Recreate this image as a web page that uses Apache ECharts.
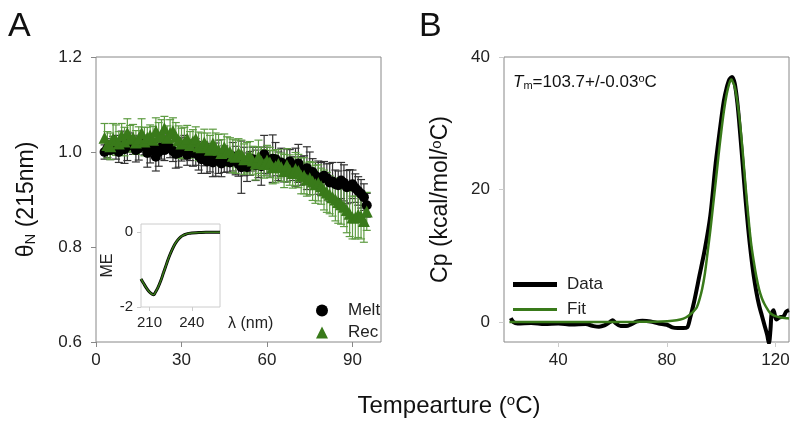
<!DOCTYPE html>
<html><head><meta charset="utf-8">
<script src="https://cdn.jsdelivr.net/npm/echarts@6/dist/echarts.min.js"></script>
<style>html,body{margin:0;padding:0;background:#fff}#c{width:800px;height:431px}</style>
</head><body><div id="c"></div>
<script>
// Panel A: temperature (°C)
var tempA = [3,4,5,6,7,8,9,10,11,12,
  13,14,15,16,17,18,19,20,21,22,
  23,24,25,26,27,28,29,30,31,32,
  33,34,35,36,37,38,39,40,41,42,
  43,44,45,46,47,48,49,50,51,52,
  53,54,55,56,57,58,59,60,61,62,
  63,64,65,66,67,68,69,70,71,72,
  73,74,75,76,77,78,79,80,81,82,
  83,84,85,86,87,88,89,90,91,92,
  93,94,95];
var meltVals = [1.000,1.008,1.004,1.015,1.010,1.000,1.022,1.006,1.012,1.020,
  1.015,1.004,1.008,1.018,1.012,0.998,1.005,1.012,0.990,1.000,
  1.010,1.004,1.018,1.008,1.002,0.996,0.998,1.006,1.010,0.994,
  1.004,0.998,1.000,0.992,0.985,0.996,0.980,0.988,0.978,0.984,
  0.990,0.976,0.985,0.980,0.978,0.990,0.982,0.975,0.968,0.980,
  0.968,0.976,0.985,0.972,0.978,0.970,0.995,0.982,0.975,0.986,
  0.985,0.970,0.978,0.972,0.972,0.980,0.965,0.968,0.976,0.960,
  0.962,0.966,0.955,0.958,0.950,0.946,0.943,0.950,0.945,0.936,
  0.938,0.932,0.930,0.940,0.935,0.926,0.928,0.932,0.924,0.918,
  0.912,0.905,0.888];
var meltErr = [0.015,0.020,0.020,0.018,0.025,0.022,0.022,0.030,0.030,0.020,
  0.020,0.025,0.025,0.018,0.018,0.030,0.028,0.022,0.030,0.030,
  0.025,0.022,0.018,0.020,0.022,0.030,0.030,0.025,0.025,0.022,
  0.022,0.028,0.028,0.030,0.030,0.025,0.025,0.030,0.030,0.035,
  0.035,0.028,0.028,0.022,0.022,0.030,0.030,0.026,0.055,0.030,
  0.030,0.025,0.025,0.032,0.032,0.040,0.040,0.028,0.028,0.050,
  0.035,0.030,0.030,0.035,0.035,0.025,0.025,0.040,0.040,0.030,
  0.030,0.045,0.045,0.028,0.028,0.035,0.035,0.030,0.030,0.040,
  0.040,0.030,0.030,0.038,0.038,0.035,0.035,0.030,0.030,0.030,
  0.030,0.028,0.025];
var recVals = [1.030,1.015,1.012,1.028,1.025,1.018,1.035,1.022,1.040,1.028,
  1.030,1.020,1.028,1.040,1.022,1.030,1.035,1.026,1.044,1.032,
  1.038,1.050,1.030,1.040,1.044,1.032,1.025,1.018,1.020,1.028,
  1.015,1.022,1.028,1.012,1.010,1.020,1.012,1.005,1.018,1.008,
  1.005,0.998,1.010,1.002,1.000,0.992,0.990,0.998,0.995,0.985,
  0.988,0.992,0.982,0.976,0.990,0.980,0.975,0.982,0.978,0.968,
  0.970,0.975,0.968,0.960,0.972,0.962,0.956,0.964,0.960,0.950,
  0.950,0.942,0.945,0.938,0.932,0.935,0.928,0.920,0.915,0.910,
  0.905,0.900,0.895,0.890,0.885,0.878,0.870,0.862,0.862,0.868,
  0.865,0.855,0.875];
var recErr = [0.030,0.028,0.028,0.032,0.032,0.025,0.025,0.030,0.030,0.028,
  0.028,0.025,0.025,0.030,0.030,0.022,0.022,0.028,0.028,0.030,
  0.030,0.025,0.025,0.028,0.028,0.030,0.030,0.032,0.032,0.028,
  0.028,0.025,0.025,0.030,0.030,0.028,0.028,0.030,0.030,0.032,
  0.032,0.028,0.028,0.030,0.030,0.035,0.035,0.030,0.030,0.032,
  0.032,0.030,0.030,0.035,0.035,0.030,0.030,0.032,0.032,0.035,
  0.035,0.030,0.030,0.035,0.035,0.032,0.032,0.035,0.035,0.038,
  0.038,0.035,0.035,0.040,0.040,0.038,0.038,0.042,0.042,0.040,
  0.040,0.045,0.045,0.042,0.042,0.048,0.048,0.045,0.045,0.048,
  0.048,0.045,0.040];
// Inset: CD spectrum
var lambda = [204,206,208,210,212,213,214,216,218,220,222,224,226,228,230,232,234,236,238,240,245,250,255,260];
var meVals = [-1.25,-1.38,-1.50,-1.60,-1.66,-1.67,-1.62,-1.48,-1.30,-1.08,-0.86,-0.65,-0.47,-0.32,-0.21,-0.13,-0.08,-0.05,-0.03,-0.02,-0.01,0,0,0];
// Panel B: DSC data
var tempData = [22.5,23.5,25,30,35,40,45,50,53,55,57,59,60,61,63,65,67,69,71,74,77,80,82,84,86,87.5,88.5,90,92,94,96,98,100,101,102,103,104,105,106,107,108,109,110,111,112,113,114,115,116,117,117.6,118.2,118.6,119.3,120.3,121.5,123,124,125];
var cpData = [0.6,0.0,-0.2,-0.15,-0.3,-0.2,-0.35,-0.3,-0.6,-0.7,-0.5,0.0,0.3,-0.1,-0.6,-0.6,-0.3,0.1,0.2,0.1,-0.2,-0.4,-0.8,-0.9,-0.9,-0.8,0.5,3,7,11,16,24,30.5,33.4,35.3,36.6,37,36,33,28.5,23.5,18.5,14,10.2,7,4.5,2.5,1,-0.5,-2,-3.2,-1,1.3,1.8,0.4,0.7,0.9,1.6,1.8];
var tempFit = [22,30,40,50,60,70,78,82,85,87,89,90,91,92,93,94,95,96,97,98,99,100,101,102,103,103.7,104,105,106,107,108,109,110,111,112,113,114,115,116,117,118,119,120,122,124,125];
var cpFit = [0,0,0,0,0,0.05,0.1,0.2,0.4,0.7,1.3,1.7,2.2,3.4,5.0,7.3,10.5,13.8,17.5,21.2,25.0,28.6,31.8,34.3,36.0,36.6,36.5,35.5,33.2,29.8,25.4,20.5,16.0,12.0,9.2,6.8,4.9,3.6,2.7,2.0,1.4,1.1,0.9,0.7,0.6,0.55];
var ticksA_x = [0,30,60,90], ticksA_y = [0.6,0.8,1.0,1.2];
var ticksB_x = [40,80,120], ticksB_y = [0,20,40];
var ticksI_x = [210,240], ticksI_y = [-2,0];

var GREEN = '#397a1a', GREEN_ERR = '#5e9c42', BLACK = '#000', BLACK_ERR = '#333';
var FONT = 'Liberation Sans, Arial, sans-serif';

function zip(a,b,c){return a.map(function(v,i){return c?[v,b[i],c[i]]:[v,b[i]];});}
function errRender(color){
  return function(params, api){
    var x=api.value(0), y=api.value(1), e=api.value(2);
    var hi=api.coord([x,y+e]), lo=api.coord([x,y-e]), hw=4;
    var st={stroke:color,lineWidth:1.2};
    return {type:'group',children:[
      {type:'line',shape:{x1:hi[0],y1:hi[1],x2:lo[0],y2:lo[1]},style:st},
      {type:'line',shape:{x1:hi[0]-hw,y1:hi[1],x2:hi[0]+hw,y2:hi[1]},style:st},
      {type:'line',shape:{x1:lo[0]-hw,y1:lo[1],x2:lo[0]+hw,y2:lo[1]},style:st}
    ]};
  };
}
var lblStyle = {fontSize:17,color:'#222',fontFamily:FONT};
function axisBase(extra){
  var o = {axisLine:{show:false,onZero:false},splitLine:{show:false}};
  return Object.assign(o, extra);
}
var chart = echarts.init(document.getElementById('c'), null, {renderer:'canvas'});
var option = {
  animation:false,
  backgroundColor:'#fff',
  grid:[
    {left:96,top:57,width:285,height:285,show:true,borderColor:'#888',borderWidth:1,containLabel:false},
    {left:504,top:57,width:285,height:285,show:true,borderColor:'#888',borderWidth:1,containLabel:false},
    {left:141,top:224,width:79,height:83,show:true,borderColor:'#ccc',borderWidth:1,containLabel:false}
  ],
  xAxis:[
    axisBase({gridIndex:0,type:'value',min:0,max:100,
      axisTick:{show:true,length:5,lineStyle:{color:'#888'},customValues:ticksA_x},
      axisLabel:Object.assign({margin:10,customValues:ticksA_x},lblStyle)}),
    axisBase({gridIndex:1,type:'value',min:20,max:125,
      axisTick:{show:true,length:5,lineStyle:{color:'#ccc'},customValues:ticksB_x},
      axisLabel:Object.assign({margin:10,customValues:ticksB_x},lblStyle)}),
    axisBase({gridIndex:2,type:'value',min:204,max:260,
      name:'λ (nm)',nameLocation:'end',nameGap:8,
      nameTextStyle:{fontSize:16,color:'#222',fontFamily:FONT,verticalAlign:'top',padding:[9,0,0,0]},
      axisTick:{show:true,length:4,lineStyle:{color:'#ccc'},customValues:ticksI_x},
      axisLabel:{margin:8,fontSize:15,color:'#222',fontFamily:FONT,customValues:ticksI_x}})
  ],
  yAxis:[
    axisBase({gridIndex:0,type:'value',min:0.6,max:1.2,
      name:'{a|θ}{s|N}{a| (215nm)}',nameLocation:'middle',nameGap:58,nameRotate:90,
      nameTextStyle:{fontFamily:FONT,rich:{a:{fontSize:23,color:'#111',fontFamily:FONT},s:{fontSize:15,color:'#111',fontFamily:FONT,verticalAlign:'bottom',padding:[8,0,0,0]}}},
      axisTick:{show:true,length:5,lineStyle:{color:'#888'},customValues:ticksA_y},
      axisLabel:Object.assign({margin:14,customValues:ticksA_y,formatter:function(v){return v.toFixed(1);}},lblStyle)}),
    axisBase({gridIndex:1,type:'value',min:-3,max:40,
      name:'{a|Cp (kcal/mol/}{s|o}{a|C)}',nameLocation:'middle',nameGap:52,nameRotate:90,
      nameTextStyle:{fontFamily:FONT,rich:{a:{fontSize:23,color:'#111',fontFamily:FONT},s:{fontSize:15,color:'#111',fontFamily:FONT,verticalAlign:'top',padding:[0,0,8,0]}}},
      axisTick:{show:true,length:5,lineStyle:{color:'#ccc'},customValues:ticksB_y},
      axisLabel:Object.assign({margin:14,customValues:ticksB_y},lblStyle)}),
    axisBase({gridIndex:2,type:'value',min:-2,max:0.22,
      name:'ME',nameLocation:'middle',nameGap:24,nameRotate:90,
      nameTextStyle:{fontSize:16,color:'#222',fontFamily:FONT},
      axisTick:{show:true,length:4,lineStyle:{color:'#ccc'},customValues:ticksI_y},
      axisLabel:{margin:8,fontSize:15,color:'#222',fontFamily:FONT,customValues:ticksI_y}})
  ],
  legend:[
    {data:[{name:'Melt',icon:'circle'},{name:'Rec',icon:'triangle'}],orient:'vertical',left:311,top:296,itemWidth:12,itemHeight:12,itemGap:3,
      textStyle:{fontSize:17,color:'#222',fontFamily:FONT,padding:[0,0,0,15],lineHeight:19}},
    {data:[{name:'Data',icon:'rect'}],left:508,top:271,itemWidth:44,itemHeight:5,
      textStyle:{fontSize:17,color:'#222',fontFamily:FONT,padding:[0,0,0,5]}},
    {data:[{name:'Fit',icon:'rect'}],left:508,top:296,itemWidth:44,itemHeight:3,
      textStyle:{fontSize:17,color:'#222',fontFamily:FONT,padding:[0,0,0,5]}}
  ],
  graphic:[
    {type:'text',x:8,y:10,style:{text:'A',fontSize:34,fill:'#111',fontFamily:FONT}},
    {type:'text',x:419,y:10,style:{text:'B',fontSize:34,fill:'#111',fontFamily:FONT}},
    {type:'text',x:449,y:406,style:{text:'{a|Tempearture (}{s|o}{a|C)}',align:'center',verticalAlign:'middle',
      rich:{a:{fontSize:24,fill:'#111',fontFamily:FONT},s:{fontSize:15,fill:'#111',fontFamily:FONT,verticalAlign:'top',padding:[0,0,10,0]}}}},
    {type:'text',x:513,y:82,style:{text:'{i|T}{m|m}{a|=103.7+/-0.03}{s|o}{a|C}',verticalAlign:'middle',
      rich:{i:{fontSize:17,fontStyle:'italic',fill:'#111',fontFamily:FONT},m:{fontSize:11,fill:'#111',fontFamily:FONT,verticalAlign:'bottom',padding:[7,0,0,0]},
        a:{fontSize:17,fill:'#111',fontFamily:FONT},s:{fontSize:11,fill:'#111',fontFamily:FONT,verticalAlign:'top',padding:[0,0,7,0]}}}}
  ],
  series:[
    {type:'custom',xAxisIndex:0,yAxisIndex:0,renderItem:errRender(BLACK_ERR),data:zip(tempA,meltVals,meltErr),silent:true,z:2},
    {type:'custom',xAxisIndex:0,yAxisIndex:0,renderItem:errRender(GREEN_ERR),data:zip(tempA,recVals,recErr),silent:true,z:2},
    {name:'Melt',type:'scatter',xAxisIndex:0,yAxisIndex:0,symbol:'circle',symbolSize:10,itemStyle:{color:BLACK,opacity:1},data:zip(tempA,meltVals),z:3},
    {name:'Rec',type:'scatter',xAxisIndex:0,yAxisIndex:0,symbol:'triangle',symbolSize:12,itemStyle:{color:GREEN,opacity:1},data:zip(tempA,recVals),z:4},
    {name:'Data',type:'line',xAxisIndex:1,yAxisIndex:1,data:zip(tempData,cpData),smooth:0.3,showSymbol:false,lineStyle:{color:'#000',width:4},itemStyle:{color:'#000'},z:3},
    {name:'Fit',type:'line',xAxisIndex:1,yAxisIndex:1,data:zip(tempFit,cpFit),smooth:0.3,showSymbol:false,lineStyle:{color:GREEN,width:2.5},itemStyle:{color:GREEN},z:4},
    {type:'line',xAxisIndex:2,yAxisIndex:2,data:zip(lambda,meVals),smooth:0.4,showSymbol:false,lineStyle:{color:'#000',width:3},z:3},
    {type:'line',xAxisIndex:2,yAxisIndex:2,data:zip(lambda,meVals),smooth:0.4,showSymbol:false,lineStyle:{color:GREEN,width:1.5},z:4}
  ]
};
chart.setOption(option);
</script></body></html>
